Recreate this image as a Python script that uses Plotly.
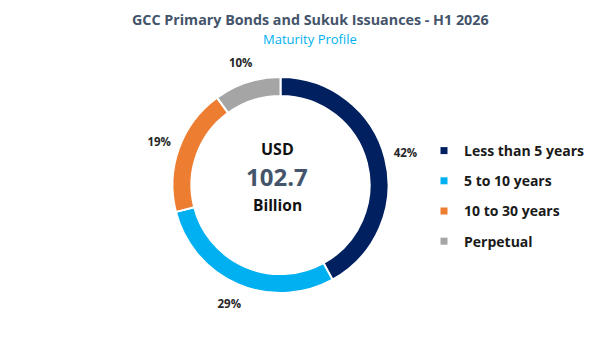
import plotly.graph_objects as go

labels = ["Less than 5 years", "5 to 10 years", "10 to 30 years", "Perpetual"]
values = [42, 29, 19, 10]
colors = ["#002060", "#00B0F0", "#ED7D31", "#A5A5A5"]
total_usd_bn = 102.7
title = "GCC Primary Bonds and Sukuk Issuances - H1 2026"
subtitle = "Maturity Profile"

FONT = "Open Sans"
W, H = 600, 338
cx, cy, R = 280.5, 185, 108
R2 = 146  # outer radius of the invisible label ring


def domain(r):
    return dict(x=[(cx - r) / W, (cx + r) / W], y=[(H - cy - r) / H, (H - cy + r) / H])


fig = go.Figure()
fig.add_trace(go.Pie(
    labels=labels, values=values, sort=False, direction="clockwise", rotation=0,
    hole=0.825,
    marker=dict(colors=colors, line=dict(color="white", width=2)),
    textinfo="none", showlegend=False, hoverinfo="label+percent",
    domain=domain(R),
))
# transparent ring carrying the percentage labels just outside the donut
fig.add_trace(go.Pie(
    labels=labels, values=values, sort=False, direction="clockwise", rotation=0,
    hole=112 / R2,
    marker=dict(colors=["rgba(0,0,0,0)"] * len(values), line=dict(width=0)),
    texttemplate="%{percent:.0%}", textposition="inside", insidetextorientation="horizontal",
    insidetextfont=dict(family=FONT, size=11.5, color="#262626", weight="bold"),
    showlegend=False, hoverinfo="skip",
    domain=domain(R2),
))

for lab, col in zip(labels, colors):
    fig.add_trace(go.Scatter(
        x=[None], y=[None], mode="markers", name=lab, legendgroup=lab,
        marker=dict(symbol="square", size=7, color=col),
    ))


def note(x, y, text, size, color, bold=True):
    fig.add_annotation(x=x / W, y=1 - y / H, xref="paper", yref="paper",
                       text=f"<b>{text}</b>" if bold else text, showarrow=False,
                       font=dict(family=FONT, size=size, color=color))


note(310, 8, title, 14.3, "#44546A")
note(310, 27.5, subtitle, 13, "#00B0F0", bold=False)
note(277, 149, "USD", 16, "#111111")
note(277, 176.5, f"{total_usd_bn}", 24, "#44546A")
note(277, 205, "Billion", 15.5, "#111111")

fig.update_layout(
    width=W, height=H, margin=dict(l=0, r=0, t=0, b=0),
    paper_bgcolor="white", plot_bgcolor="white",
    xaxis=dict(visible=False), yaxis=dict(visible=False),
    legend=dict(x=424 / W, y=1 - 135 / H, xanchor="left", yanchor="top",
                font=dict(family=FONT, size=14, color="#1a1a1a", weight="bold"),
                tracegroupgap=9, itemwidth=30, bgcolor="rgba(0,0,0,0)"),
)
fig.write_html("out.html")
